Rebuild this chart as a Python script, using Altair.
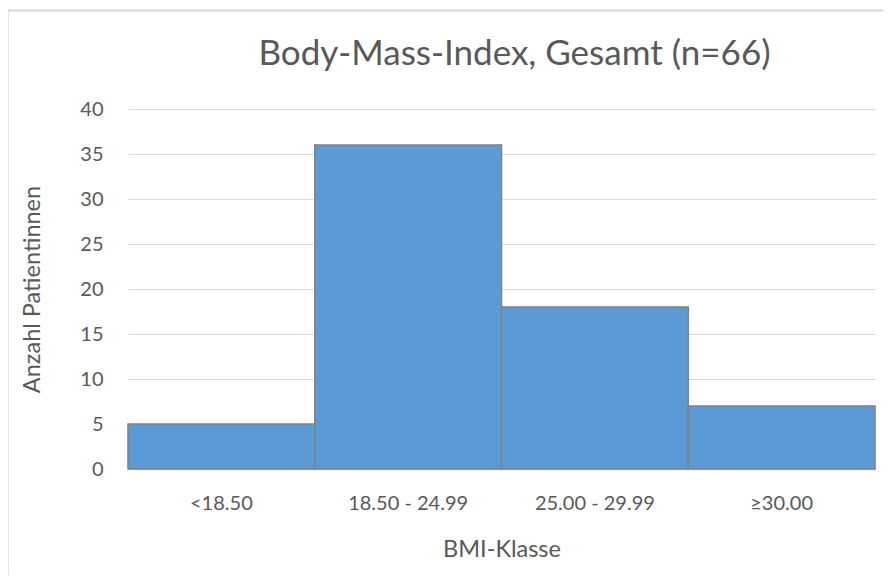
import altair as alt
import pandas as pd

categories = ["<18.50", "18.50 - 24.99", "25.00 - 29.99", "≥30.00"]
counts = [5, 36, 18, 7]
y_ticks = [0, 5, 10, 15, 20, 25, 30, 35, 40]

df = pd.DataFrame({"klasse": categories, "anzahl": counts})

FONT = "Lato"
GREY = "#595959"

bars = alt.Chart(df).mark_bar(
    color="#5B9BD5", stroke="#808080", strokeWidth=1.5
).encode(
    x=alt.X("klasse:N", sort=categories,
            scale=alt.Scale(paddingInner=0, paddingOuter=0),
            axis=alt.Axis(title="BMI-Klasse", labelAngle=0, labelPadding=24,
                          ticks=False, domain=True, domainColor="#d9d9d9",
                          domainWidth=1.5, titlePadding=24, grid=False)),
    y=alt.Y("anzahl:Q", scale=alt.Scale(domain=[0, 40], nice=False),
            axis=alt.Axis(title="Anzahl Patientinnen", values=y_ticks,
                          ticks=False, domain=False, labelPadding=25,
                          grid=True, gridColor="#d9d9d9", gridWidth=1,
                          titlePadding=35)),
)

frame = alt.Chart(df).mark_rect(
    fill=None, stroke="#d9d9d9", strokeWidth=1.5
).encode(
    x=alt.value(-120.5), x2=alt.value(900),
    y=alt.value(-98.5), y2=alt.value(700),
)

chart = alt.layer(frame, bars).properties(
    width=747, height=360,
    autosize=alt.AutoSizeParams(type="none"),
    padding={"left": 120, "top": 101, "right": 8, "bottom": 106},
    title=alt.TitleParams("Body-Mass-Index, Gesamt (n=66)", fontSize=35,
                          font=FONT, fontWeight="normal", color=GREY,
                          anchor="middle", offset=0, dy=90, dx=13,
                          baseline="alphabetic"),
).configure_view(stroke=None).configure_axis(
    labelFont=FONT, titleFont=FONT, labelFontSize=20, titleFontSize=23.5,
    labelColor=GREY, titleColor=GREY, titleFontWeight="normal",
)

chart.save("out.html", embed_options={"renderer": "svg", "actions": False})
